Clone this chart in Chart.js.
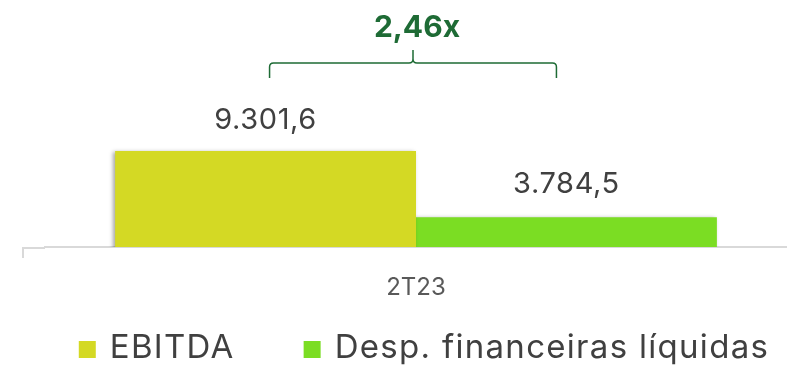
<!DOCTYPE html>
<html>
<head>
<meta charset="utf-8">
<script src="https://cdn.jsdelivr.net/npm/chart.js@4.4.1/dist/chart.umd.min.js"></script>
<style>
  html, body { margin: 0; padding: 0; background: #ffffff; }
  #wrap { position: relative; width: 787px; height: 365px; }
</style>
</head>
<body>
<div id="wrap"><canvas id="chart" width="787" height="365"></canvas></div>
<script>
// Period and series (R$ milhões)
const categories = ['2T23'];
const seriesNames = ['EBITDA', 'Desp. financeiras líquidas'];
const ebitdaValues = [9301.6];
const despFinValues = [3784.5];
const seriesColors = ['#D4D924', '#7BDD23'];

const FONT = 'Inter, Roboto, "Liberation Sans", sans-serif';
const TEXT = '#404040';
const ACCENT = '#1E6B35';

// Brazilian number format: 9.301,6
function fmtBR(v, digits) {
  const [i, d] = v.toFixed(digits).split('.');
  const int = i.replace(/\B(?=(\d{3})+(?!\d))/g, '.');
  return d ? int + ',' + d : int;
}

// Soft drop shadow under the bars
const barShadow = {
  id: 'barShadow',
  beforeDatasetsDraw(chart) {
    const ctx = chart.ctx;
    ctx.save();
    ctx.shadowColor = 'rgba(0,0,0,0.35)';
    ctx.shadowBlur = 4;
    ctx.shadowOffsetX = -2;
    ctx.shadowOffsetY = 1;
  },
  afterDatasetsDraw(chart) {
    chart.ctx.restore();
  }
};

// Axis stub, value labels, coverage bracket and legend
const decorations = {
  id: 'decorations',
  afterDraw(chart) {
    const ctx = chart.ctx;
    const area = chart.chartArea;
    const b0 = chart.getDatasetMeta(0).data[0];
    const b1 = chart.getDatasetMeta(1).data[0];

    // baseline extension to the left with a small tick
    ctx.save();
    ctx.strokeStyle = '#D9D9D9';
    ctx.lineWidth = 2;
    ctx.beginPath();
    ctx.moveTo(22, area.bottom + 1);
    ctx.lineTo(area.left, area.bottom + 1);
    ctx.moveTo(23, area.bottom);
    ctx.lineTo(23, area.bottom + 11);
    ctx.stroke();
    ctx.restore();

    // value labels above the bars
    ctx.save();
    ctx.fillStyle = TEXT;
    ctx.font = '29px ' + FONT;
    ctx.letterSpacing = '0.6px';
    ctx.textAlign = 'center';
    ctx.textBaseline = 'alphabetic';
    ctx.fillText(fmtBR(ebitdaValues[0], 1), b0.x, b0.y - 22);
    ctx.fillText(fmtBR(despFinValues[0], 1), b1.x, b1.y - 24);
    ctx.restore();

    // curly bracket linking the two bars, with the coverage ratio
    const L = b0.x + 4, R = b1.x - 10, M = (L + R) / 2;
    const yH = 63, yEnd = 78, yTip = 50, r = 4;
    ctx.save();
    ctx.strokeStyle = ACCENT;
    ctx.lineWidth = 1.5;
    ctx.beginPath();
    ctx.moveTo(L, yEnd);
    ctx.lineTo(L, yH + r);
    ctx.quadraticCurveTo(L, yH, L + r, yH);
    ctx.lineTo(M - r, yH);
    ctx.quadraticCurveTo(M, yH, M, yH - r);
    ctx.lineTo(M, yTip);
    ctx.moveTo(M, yH - r);
    ctx.quadraticCurveTo(M, yH, M + r, yH);
    ctx.lineTo(R - r, yH);
    ctx.quadraticCurveTo(R, yH, R, yH + r);
    ctx.lineTo(R, yEnd);
    ctx.stroke();
    const ratio = ebitdaValues[0] / despFinValues[0];
    ctx.fillStyle = ACCENT;
    ctx.font = 'bold 30px ' + FONT;
    ctx.textAlign = 'center';
    ctx.textBaseline = 'alphabetic';
    ctx.fillText(fmtBR(ratio, 2) + 'x', M + 4, 37);
    ctx.restore();

    // legend
    ctx.save();
    ctx.font = '33px ' + FONT;
    ctx.letterSpacing = '1.3px';
    ctx.textBaseline = 'alphabetic';
    ctx.textAlign = 'left';
    const box = 17, boxGap = 14, itemGap = 69;
    const widths = seriesNames.map(n => ctx.measureText(n).width);
    const total = widths.reduce((s, w) => s + box + boxGap + w, 0) + itemGap * (seriesNames.length - 1);
    let x = 424 - total / 2;
    seriesNames.forEach((name, i) => {
      ctx.fillStyle = seriesColors[i];
      ctx.fillRect(x, 341, box, box);
      ctx.fillStyle = TEXT;
      ctx.fillText(name, x + box + boxGap, 358);
      x += box + boxGap + widths[i] + itemGap;
    });
    ctx.restore();
  }
};

new Chart(document.getElementById('chart'), {
  type: 'bar',
  data: {
    labels: categories,
    datasets: [
      { label: seriesNames[0], data: ebitdaValues, backgroundColor: seriesColors[0] },
      { label: seriesNames[1], data: despFinValues, backgroundColor: seriesColors[1] }
    ]
  },
  options: {
    responsive: false,
    animation: false,
    devicePixelRatio: 1,
    layout: { padding: { left: 45, right: 0, top: 49, bottom: 68 } },
    datasets: { bar: { categoryPercentage: 0.811, barPercentage: 1.0 } },
    plugins: { legend: { display: false }, tooltip: { enabled: false } },
    scales: {
      x: {
        grid: { display: false, drawTicks: false },
        border: { display: true, color: '#D9D9D9', width: 2 },
        ticks: { color: '#595959', font: { family: FONT, size: 24 }, padding: 26 },
        afterFit(scale) { scale.height = 50; }
      },
      y: { display: false, min: 1300, max: 17800 }
    }
  },
  plugins: [barShadow, decorations]
});
</script>
</body>
</html>
